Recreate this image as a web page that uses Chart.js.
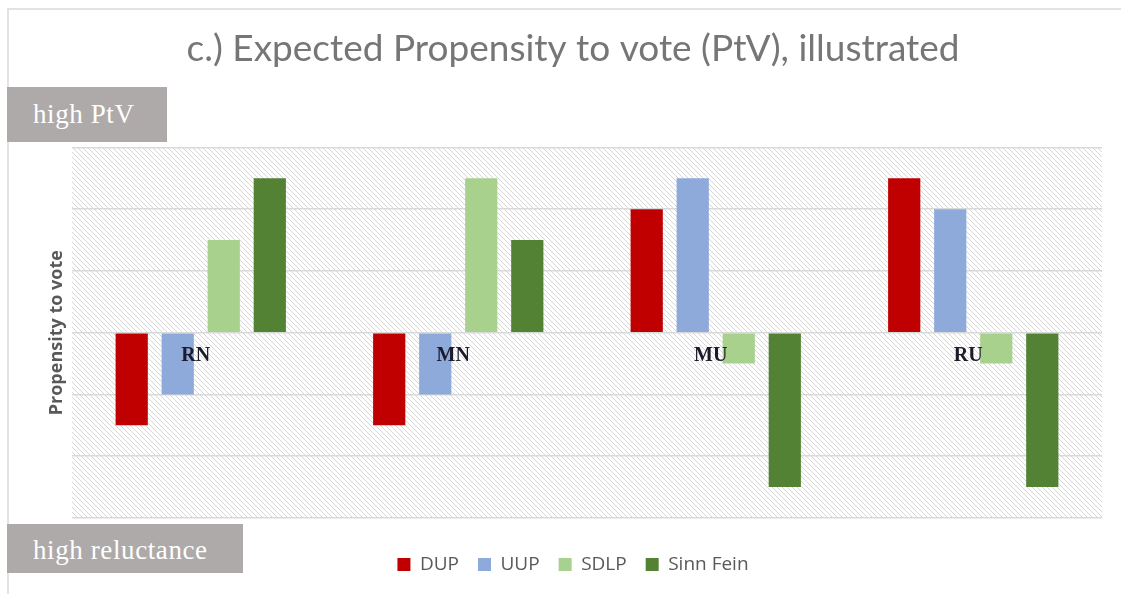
<!DOCTYPE html>
<html>
<head>
<meta charset="utf-8">
<script src="https://cdn.jsdelivr.net/npm/chart.js@4/dist/chart.umd.min.js"></script>
<style>
  body { margin: 0; background: #fff; }
  #wrap { position: relative; width: 1121px; height: 594px; overflow: hidden; }
  #frame { position: absolute; left: 7px; top: 8px; width: 1200px; height: 700px;
           border-top: 2px solid #e3e3e3; border-left: 2px solid #e3e3e3; }
  canvas { position: absolute; left: 0; top: 0; }
  .tag { position: absolute; left: 7px; background: #aeaaaa; color: #fff;
         font-family: "Liberation Serif", serif; font-size: 27px; letter-spacing: 0.6px;
         box-sizing: border-box; padding-left: 26px; }
  #hi { top: 87px; width: 160px; height: 55px; line-height: 55px; }
  #lo { top: 524px; width: 236px; height: 49px; line-height: 52px; }
</style>
</head>
<body>
<div id="wrap">
  <div id="frame"></div>
  <canvas id="chart" width="1121" height="594"></canvas>
  <div class="tag" id="hi">high PtV</div>
  <div class="tag" id="lo">high reluctance</div>
</div>
<script>
const categories = ["RN", "MN", "MU", "RU"];
const dup = [-1.5, -1.5, 2, 2.5];
const uup = [-1, -1, 2.5, 2];
const sdlp = [1.5, 2.5, -0.5, -0.5];
const sinnFein = [2.5, 1.5, -2.5, -2.5];

// diagonal hatch for the plot area
function makeHatch() {
    const c = document.createElement("canvas");
    c.width = 5; c.height = 5;
    const g = c.getContext("2d");
    g.fillStyle = "#ffffff";
    g.fillRect(0, 0, 5, 5);
    g.strokeStyle = "#d6d6d6";
    g.lineWidth = 1;
    g.beginPath();
    g.moveTo(-1, -1); g.lineTo(6, 6);
    g.moveTo(-6, -1); g.lineTo(1, 6);
    g.moveTo(4, -1); g.lineTo(11, 6);
    g.stroke();
    return g.createPattern(c, "repeat");
}

const hatchBg = {
    id: "hatchBg",
    beforeDraw(chart) {
        const { ctx, chartArea: a } = chart;
        ctx.save();
        ctx.fillStyle = makeHatch();
        ctx.fillRect(a.left, a.top, a.right - a.left, a.bottom - a.top);
        ctx.restore();
    }
};

// category names sit just under the zero line
const zeroLabels = {
    id: "zeroLabels",
    afterDatasetsDraw(chart) {
        const { ctx, scales: { x, y } } = chart;
        const y0 = y.getPixelForValue(0);
        ctx.save();
        ctx.font = "bold 20px 'Liberation Serif', serif";
        ctx.fillStyle = "#1b1b2a";
        ctx.textAlign = "center";
        ctx.textBaseline = "middle";
        categories.forEach((c, i) => {
            ctx.fillText(c, x.getPixelForValue(i) - 5, y0 + 23);
        });
        ctx.restore();
    }
};

new Chart(document.getElementById("chart"), {
    type: "bar",
    data: {
        labels: categories,
        datasets: [
            { label: "DUP", data: dup, backgroundColor: "#c00000" },
            { label: "UUP", data: uup, backgroundColor: "#8eaadb" },
            { label: "SDLP", data: sdlp, backgroundColor: "#a9d18e" },
            { label: "Sinn Fein", data: sinnFein, backgroundColor: "#548235" }
        ]
    },
    options: {
        responsive: false,
        animation: false,
        categoryPercentage: 0.715,
        barPercentage: 0.7,
        layout: { padding: { left: 44, right: 19, top: 0, bottom: 10 } },
        plugins: {
            title: {
                display: true,
                text: "c.) Expected Propensity to vote (PtV), illustrated",
                color: "#767676",
                font: { family: "Lato", size: 37, weight: "normal" },
                padding: { top: 27, bottom: 76 }
            },
            legend: {
                position: "bottom",
                labels: {
                    boxWidth: 13,
                    boxHeight: 13,
                    padding: 19,
                    color: "#595959",
                    font: { family: "Open Sans", size: 19 }
                }
            },
            tooltip: { enabled: false }
        },
        scales: {
            x: {
                ticks: { display: false },
                grid: { display: false, drawTicks: false },
                border: { display: false },
                afterFit(scale) { scale.height = 18; }
            },
            y: {
                min: -3,
                max: 3,
                ticks: { display: false, stepSize: 1 },
                grid: { color: "#d9d9d9", lineWidth: 1.5, drawTicks: false },
                border: { display: false },
                title: {
                    display: true,
                    text: "Propensity to vote",
                    color: "#595959",
                    font: { family: "Open Sans", size: 18, weight: "bold" },
                    padding: { top: 2, bottom: 4.4 }
                }
            }
        }
    },
    plugins: [hatchBg, zeroLabels]
});
</script>
</body>
</html>
